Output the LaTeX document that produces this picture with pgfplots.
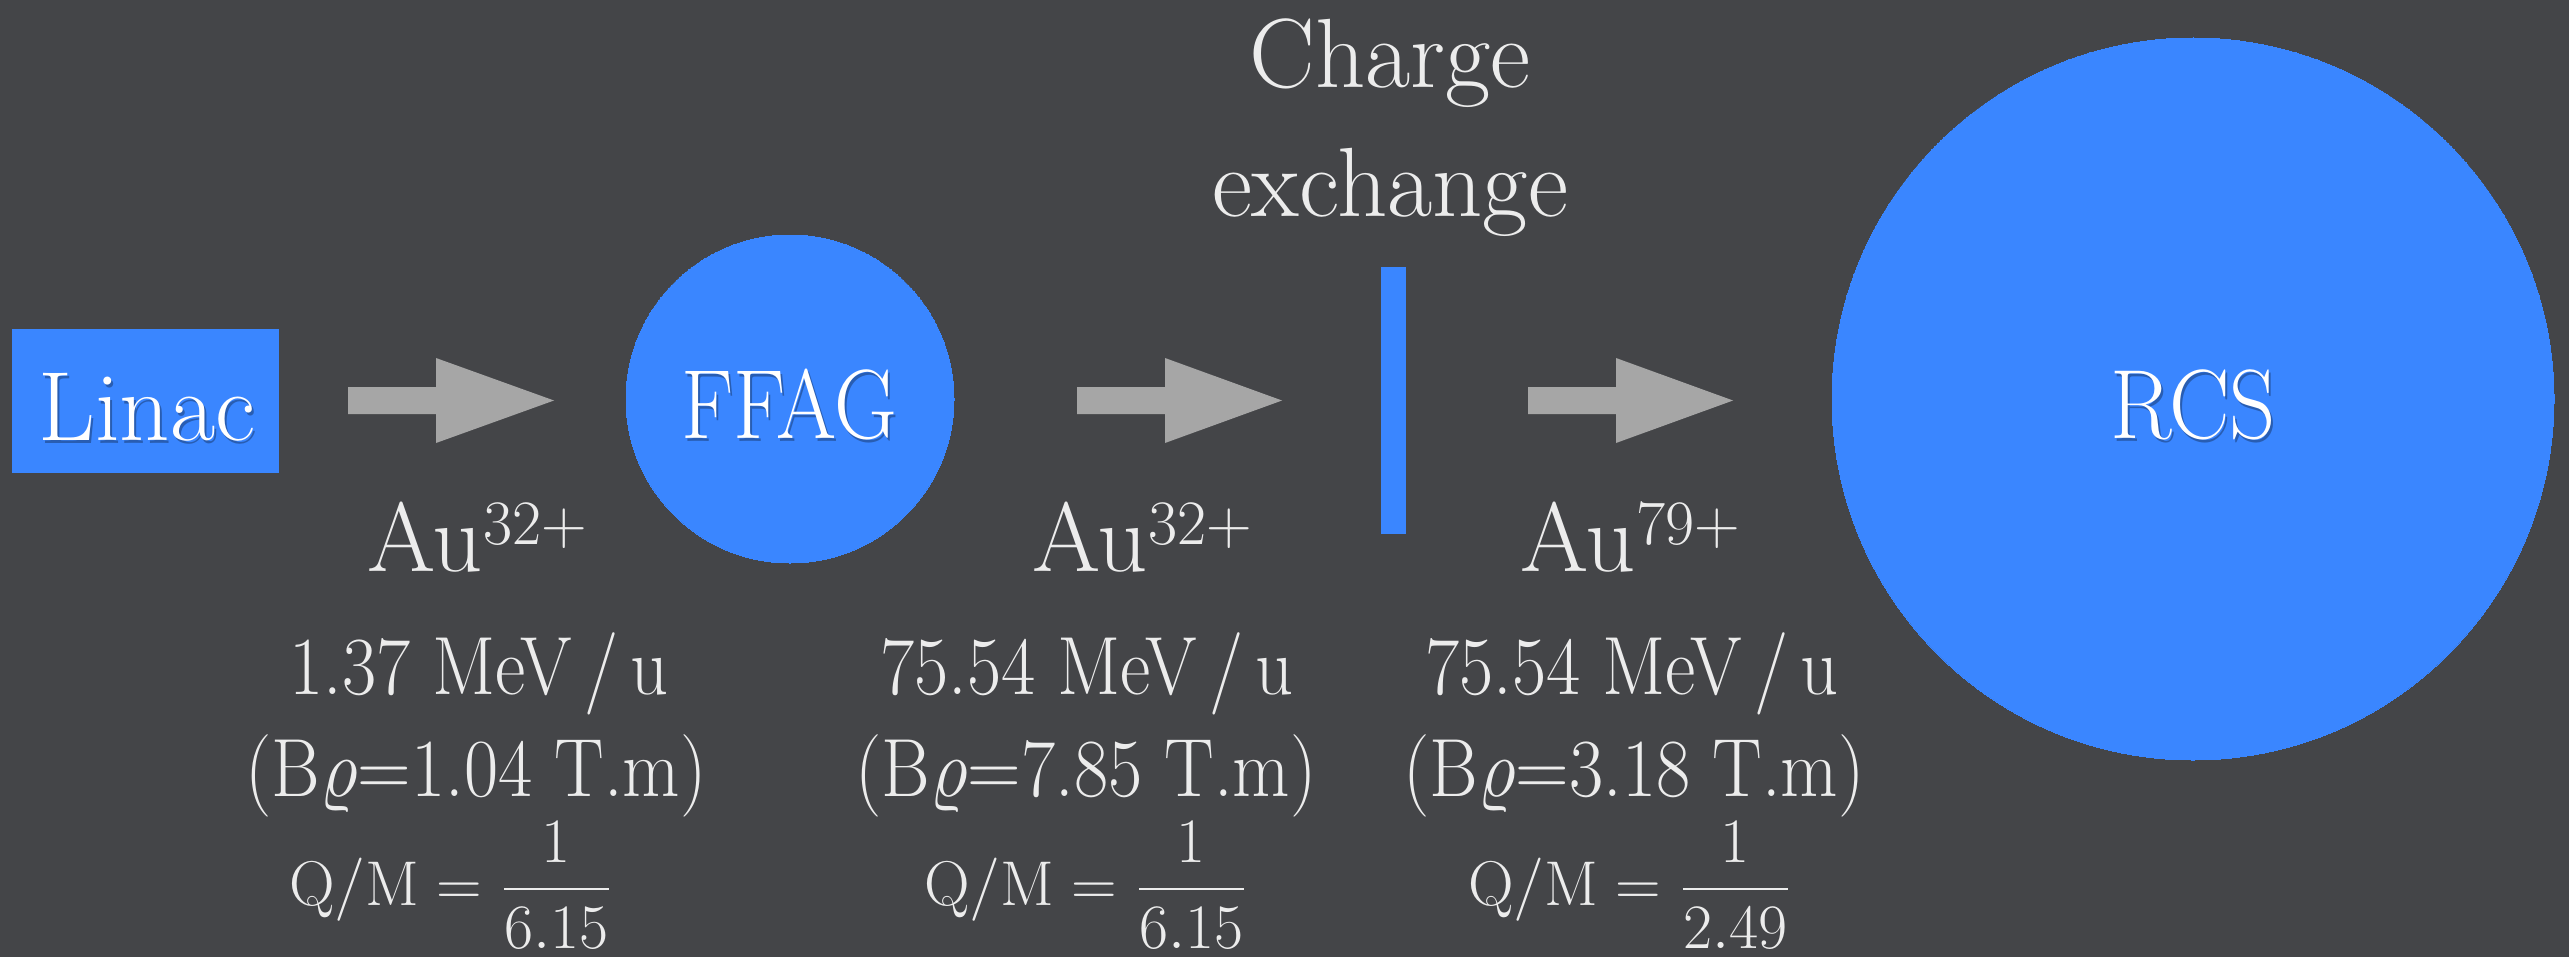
\RequirePackage{fix-cm}
\documentclass[border=0pt]{standalone}
\usepackage{graphicx}
\usepackage{pgfplots}
\pgfplotsset{compat=1.18}
\definecolor{bg}{RGB}{68,69,72}
\definecolor{myblue}{RGB}{58,134,255}
\definecolor{arrowgray}{RGB}{166,166,166}
\definecolor{txt}{RGB}{236,236,236}
\newcommand{\bigf}{\fontsize{28}{30}\selectfont}
\newcommand{\midf}{\fontsize{23.5}{26}\selectfont}
\newcommand{\au}[1]{\bigf Au\raisebox{7.4pt}{\fontsize{18}{20}\selectfont #1}}
\begin{document}
\begin{tikzpicture}
\begin{axis}[
  set layers,
  width=256.9mm, height=95.7mm, scale only axis,
  xmin=0, xmax=2569, ymin=0, ymax=957, y dir=reverse,
  hide axis, clip=false,
]
% background
\addplot[fill=bg, draw=none] coordinates {(0,0) (2569,0) (2569,957) (0,957)} -- cycle;
% Linac box
\addplot[fill=myblue, draw=none] coordinates {(12,329) (279,329) (279,473) (12,473)} -- cycle;
% charge exchange foil
\addplot[fill=myblue, draw=none] coordinates {(1381,267) (1406,267) (1406,534) (1381,534)} -- cycle;
% arrows
\addplot[fill=arrowgray, draw=none] coordinates {(348,387) (436,387) (436,358) (554,400.5) (436,443) (436,414) (348,414)} -- cycle;
\addplot[fill=arrowgray, draw=none] coordinates {(1077,387) (1165,387) (1165,358) (1282,400.5) (1165,443) (1165,414) (1077,414)} -- cycle;
\addplot[fill=arrowgray, draw=none] coordinates {(1528,387) (1616,387) (1616,358) (1733,400.5) (1616,443) (1616,414) (1528,414)} -- cycle;
% rings
\addplot[only marks, mark=*, mark size=16.4mm, mark options={fill=myblue, draw=myblue, line width=0pt}] coordinates {(790,399)};
\addplot[only marks, mark=*, mark size=36.1mm, mark options={fill=myblue, draw=myblue, line width=0pt}] coordinates {(2193,399)};
\begin{pgfonlayer}{axis foreground}
% labels in shapes (with soft shadow)
\node[anchor=base, inner sep=0pt, text=black, text opacity=0.3] at (axis cs:149,443) {\bigf Linac};
\node[anchor=base, inner sep=0pt, text=white] at (axis cs:147,440) {\bigf Linac};
\node[anchor=base, inner sep=0pt, text=black, text opacity=0.3] at (axis cs:791,441) {\scalebox{0.88}[1]{\bigf FFAG}};
\node[anchor=base, inner sep=0pt, text=white] at (axis cs:789,438) {\scalebox{0.88}[1]{\bigf FFAG}};
\node[anchor=base, inner sep=0pt, text=black, text opacity=0.3] at (axis cs:2195,441) {\scalebox{0.92}[1]{\bigf RCS}};
\node[anchor=base, inner sep=0pt, text=white] at (axis cs:2193,438) {\scalebox{0.92}[1]{\bigf RCS}};
% charge exchange title
\node[anchor=base, inner sep=0pt, text=txt] at (axis cs:1390,88) {\bigf Charge};
\node[anchor=base, inner sep=0pt, text=txt] at (axis cs:1390,217) {\bigf exchange};
% ion species
\node[anchor=base, inner sep=0pt, text=txt] at (axis cs:477,571) {\au{32+}};
\node[anchor=base, inner sep=0pt, text=txt] at (axis cs:1142,571) {\au{32+}};
\node[anchor=base, inner sep=0pt, text=txt] at (axis cs:1630,571) {\au{79+}};
% energies
\node[anchor=base, inner sep=0pt, text=txt] at (axis cs:479,694) {\scalebox{0.9}[1]{\midf 1.37 MeV\,/\,u}};
\node[anchor=base, inner sep=0pt, text=txt] at (axis cs:1087,694) {\scalebox{0.9}[1]{\midf 75.54 MeV\,/\,u}};
\node[anchor=base, inner sep=0pt, text=txt] at (axis cs:1632,694) {\scalebox{0.9}[1]{\midf 75.54 MeV\,/\,u}};
% rigidities
\node[anchor=base, inner sep=0pt, text=txt] at (axis cs:476,796) {\scalebox{0.9}[1]{\midf (B$\varrho$=1.04 T.m)}};
\node[anchor=base, inner sep=0pt, text=txt] at (axis cs:1086,796) {\scalebox{0.9}[1]{\midf (B$\varrho$=7.85 T.m)}};
\node[anchor=base, inner sep=0pt, text=txt] at (axis cs:1634,796) {\scalebox{0.9}[1]{\midf (B$\varrho$=3.18 T.m)}};
% charge to mass
\node[anchor=base, inner sep=0pt, text=txt] at (axis cs:451,905) {\fontsize{18}{20}\selectfont $\displaystyle \mathrm{Q/M}=\frac{1}{6.15}$};
\node[anchor=base, inner sep=0pt, text=txt] at (axis cs:1086,905) {\fontsize{18}{20}\selectfont $\displaystyle \mathrm{Q/M}=\frac{1}{6.15}$};
\node[anchor=base, inner sep=0pt, text=txt] at (axis cs:1630,905) {\fontsize{18}{20}\selectfont $\displaystyle \mathrm{Q/M}=\frac{1}{2.49}$};
\end{pgfonlayer}
\end{axis}
\end{tikzpicture}
\end{document}
